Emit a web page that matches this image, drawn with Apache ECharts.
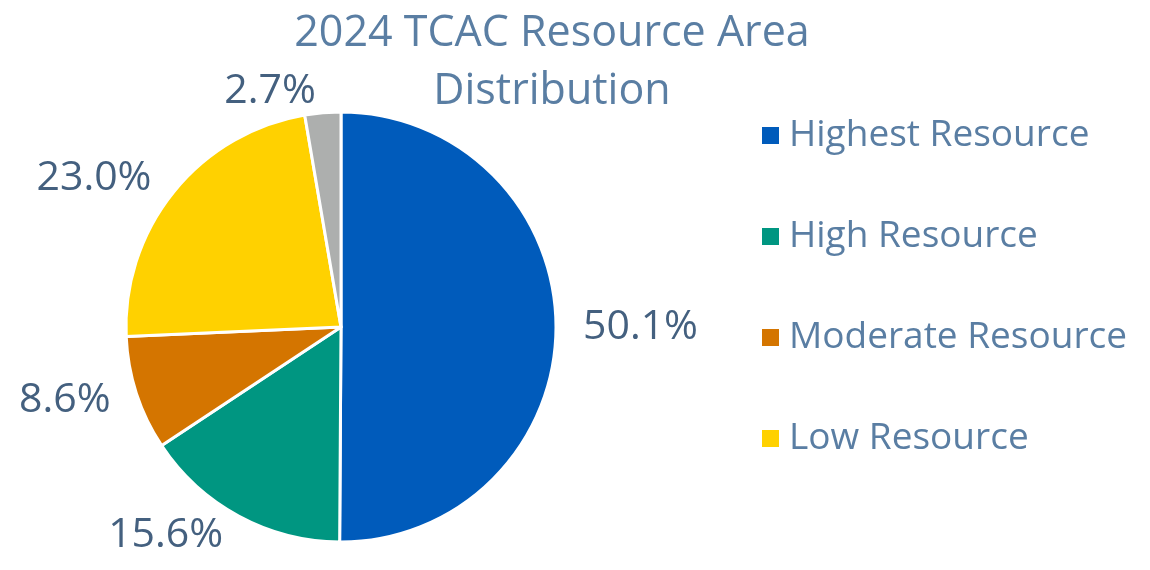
<!DOCTYPE html>
<html>
<head>
<meta charset="utf-8">
<script src="https://cdn.jsdelivr.net/npm/echarts@6/dist/echarts.min.js"></script>
<style>
  html, body { margin: 0; padding: 0; background: #fff; }
  #chart { width: 1150px; height: 570px; }
</style>
</head>
<body>
<div id="chart"></div>
<script>
const categories = ['Highest Resource', 'High Resource', 'Moderate Resource', 'Low Resource', 'Other'];
const shares = [50.1, 15.6, 8.6, 23.0, 2.7];
const legendItems = ['Highest Resource', 'High Resource', 'Moderate Resource', 'Low Resource'];
const colors = ['#005bbb', '#009681', '#d47500', '#ffd100', '#adafae'];

const FONT = '"Open Sans", "Noto Sans", sans-serif';

const instance = echarts.init(document.getElementById('chart'));
const option = {
  color: colors,
  title: {
    text: '2024 TCAC Resource Area\nDistribution',
    left: 547,
    top: 0,
    textAlign: 'center',
    textStyle: {
      fontFamily: FONT,
      fontSize: 43,
      fontWeight: 'normal',
      color: '#5a7ea3',
      lineHeight: 58,
    },
  },
  legend: {
    data: legendItems,
    orient: 'vertical',
    left: 755,
    top: 112,
    itemWidth: 19,
    itemHeight: 19,
    itemGap: 64,
    icon: 'rect',
    textStyle: {
      fontFamily: FONT,
      fontSize: 37,
      color: '#5a7ea3',
      padding: [0, 0, 0, 4],
    },
  },
  series: [
    {
      name: 'Resource Area',
      type: 'pie',
      center: [341, 327],
      radius: [0, 215],
      startAngle: 90,
      clockwise: true,
      avoidLabelOverlap: false,
      itemStyle: {
        borderColor: '#fff',
        borderWidth: 3,
      },
      label: {
        show: true,
        position: 'outside',
        formatter: (p) => p.value.toFixed(1) + '%',
        fontFamily: FONT,
        fontSize: 41,
        color: '#44607f',
      },
      labelLine: {
        show: false,
        length: 22,
        length2: 0,
      },
      emphasis: { disabled: true },
      data: categories.map((name, i) => ({ name, value: shares[i] })),
    },
  ],
};
instance.setOption(option);
</script>
</body>
</html>
